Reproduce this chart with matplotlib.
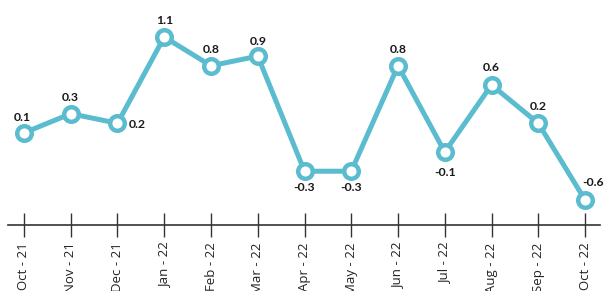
import numpy as np
import matplotlib.pyplot as plt

months = ['Oct - 21', 'Nov - 21', 'Dec - 21', 'Jan - 22', 'Feb - 22', 'Mar - 22',
          'Apr - 22', 'May - 22', 'Jun - 22', 'Jul - 22', 'Aug - 22', 'Sep - 22', 'Oct - 22']
values = [0.1, 0.3, 0.2, 1.1, 0.8, 0.9, -0.3, -0.3, 0.8, -0.1, 0.6, 0.2, -0.6]
# label offsets in pixels (dx, dy)
offsets = [(-2, 15), (0, 16), (20, -1), (0, 17), (0, 16), (0, 15), (0, -16), (0, -16),
           (0, 16), (0, -20), (0, 17), (0, 17), (8, 17)]

line_color = '#5bbccf'

fig = plt.figure(figsize=(6.05, 2.91), dpi=100)
ax = fig.add_axes([8 / 605, 66 / 291, 592 / 605, 225 / 291])

x = np.arange(len(months))
ax.plot(x, values, color=line_color, lw=3.6, marker='o', markersize=10.5,
        markerfacecolor='white', markeredgecolor=line_color, markeredgewidth=3.2,
        solid_joinstyle='miter', zorder=3, clip_on=False)

for xi, v, (dx, dy) in zip(x, values, offsets):
    ax.annotate(f'{v:.1f}', (xi, v), xytext=(dx, dy), textcoords='offset pixels',
                ha='center', va='center', fontsize=8.8, fontweight='bold',
                family='Lato', color='#1a1a1a')

ax.set_xlim(-0.342, 12.32)
ax.set_ylim(-0.861, 1.486)

for s in ['top', 'right', 'left']:
    ax.spines[s].set_visible(False)
ax.spines['bottom'].set_color('#333333')
ax.spines['bottom'].set_linewidth(1.2)
ax.set_yticks([])
ax.set_xticks(x)
ax.set_xticklabels(months, rotation=90, fontsize=9.5, family='Open Sans', color='#222222')
ax.tick_params(axis='x', direction='inout', length=17, width=1, color='#333333', pad=4)

plt.savefig('out.png', dpi=100)
